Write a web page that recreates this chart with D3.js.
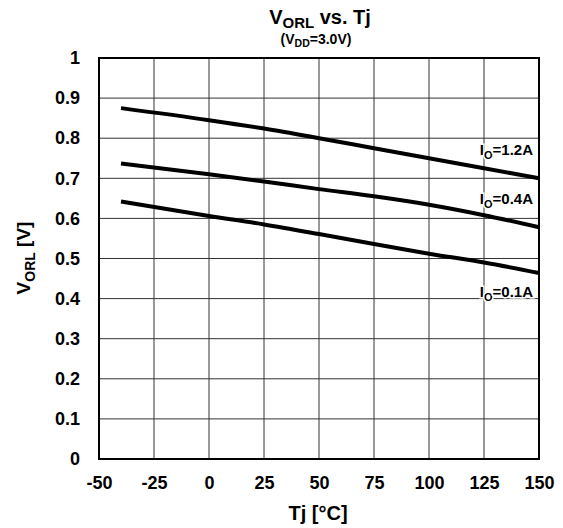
<!DOCTYPE html>
<html>
<head>
<meta charset="utf-8">
<script src="https://cdn.jsdelivr.net/npm/d3@7"></script>
<style>
  html, body { margin: 0; padding: 0; background: #fff; }
  svg text { font-family: "Liberation Sans", Arial, sans-serif; font-weight: bold; fill: #000; }
</style>
</head>
<body>
<svg id="chart" width="563" height="528"></svg>
<script>
// Junction temperature samples (°C)
const tj = [-40, 0, 25, 50, 75, 100, 125, 150];
// Output low voltage (V) for each load current
const vorl12 = [0.875, 0.845, 0.824, 0.800, 0.775, 0.750, 0.725, 0.700];
const vorl04 = [0.737, 0.710, 0.692, 0.673, 0.655, 0.634, 0.608, 0.578];
const vorl01 = [0.642, 0.606, 0.585, 0.561, 0.536, 0.512, 0.490, 0.464];
const seriesLabels = ["1.2A", "0.4A", "0.1A"];
const xTicks = [-50, -25, 0, 25, 50, 75, 100, 125, 150];
const yTicks = [0, 0.1, 0.2, 0.3, 0.4, 0.5, 0.6, 0.7, 0.8, 0.9, 1];

const FONT = "'Liberation Sans', Arial, sans-serif";
const svg = d3.select("#chart");
const m = { left: 99, right: 539, top: 58, bottom: 459 };

const x = d3.scaleLinear().domain([-50, 150]).range([m.left, m.right]);
const y = d3.scaleLinear().domain([0, 1]).range([m.bottom, m.top]);

// Grid
const grid = svg.append("g");
grid.selectAll(".vg").data(xTicks.slice(1, -1)).join("line")
  .attr("x1", d => x(d)).attr("x2", d => x(d))
  .attr("y1", m.top).attr("y2", m.bottom)
  .attr("stroke", "#333").attr("stroke-width", 1);
grid.selectAll(".hg").data(yTicks.slice(1, -1)).join("line")
  .attr("x1", m.left).attr("x2", m.right)
  .attr("y1", d => y(d)).attr("y2", d => y(d))
  .attr("stroke", "#333").attr("stroke-width", 1);

// Curves
const line = d3.line().x((d, i) => x(tj[i])).y(d => y(d)).curve(d3.curveMonotoneX);
[vorl12, vorl04, vorl01].forEach(s => {
  svg.append("path").datum(s).attr("d", line)
    .attr("fill", "none").attr("stroke", "#000").attr("stroke-width", 4);
});

// Frame
svg.append("rect").attr("x", m.left).attr("y", m.top)
  .attr("width", m.right - m.left).attr("height", m.bottom - m.top)
  .attr("fill", "none").attr("stroke", "#000").attr("stroke-width", 2);

// Axes (labels only)
const xAxis = svg.append("g").attr("transform", `translate(0,${m.bottom})`)
  .call(d3.axisBottom(x).tickValues(xTicks).tickSize(0).tickPadding(17).tickFormat(d => String(d)));
xAxis.select(".domain").remove();
xAxis.attr("font-family", FONT).attr("font-size", 18).attr("font-weight", "bold");
xAxis.selectAll("text").attr("fill", "#000");

const yAxis = svg.append("g").attr("transform", `translate(${m.left},0)`)
  .call(d3.axisLeft(y).tickValues(yTicks).tickSize(0).tickPadding(19)
    .tickFormat(d => d === 0 || d === 1 ? String(d) : d3.format(".1f")(d)));
yAxis.select(".domain").remove();
yAxis.attr("font-family", FONT).attr("font-size", 18).attr("font-weight", "bold");
yAxis.selectAll("text").attr("fill", "#000");

// Series labels with a white halo so the grid is interrupted behind them
const labelY = [0.758, 0.636, 0.404];
seriesLabels.forEach((lab, i) => {
  const t = svg.append("text").attr("x", 533).attr("y", y(labelY[i]))
    .attr("text-anchor", "end").style("font-size", "15px")
    .attr("stroke", "#fff").attr("stroke-width", 3).attr("paint-order", "stroke");
  t.append("tspan").text("I");
  t.append("tspan").attr("dy", 4).style("font-size", "11px").text("O");
  t.append("tspan").attr("dy", -4).text("=" + lab);
});

// Title
const title = svg.append("text").attr("x", 320).attr("y", 24).attr("text-anchor", "middle").style("font-size", "20px");
title.append("tspan").text("V");
title.append("tspan").attr("dy", 4).style("font-size", "15px").text("ORL");
title.append("tspan").attr("dy", -4).text(" vs. Tj");

const sub = svg.append("text").attr("x", 316).attr("y", 44).attr("text-anchor", "middle").style("font-size", "14px");
sub.append("tspan").text("(V");
sub.append("tspan").attr("dy", 3).style("font-size", "10.5px").text("DD");
sub.append("tspan").attr("dy", -3).text("=3.0V)");

// Axis titles
svg.append("text").attr("x", 318).attr("y", 520).attr("text-anchor", "middle").style("font-size", "20px").text("Tj [°C]");

const yt = svg.append("text").attr("transform", "translate(30,258) rotate(-90)")
  .attr("text-anchor", "middle").style("font-size", "19px");
yt.append("tspan").text("V");
yt.append("tspan").attr("dy", 5).style("font-size", "14px").text("ORL");
yt.append("tspan").attr("dy", -5).text(" [V]");
</script>
</body>
</html>
